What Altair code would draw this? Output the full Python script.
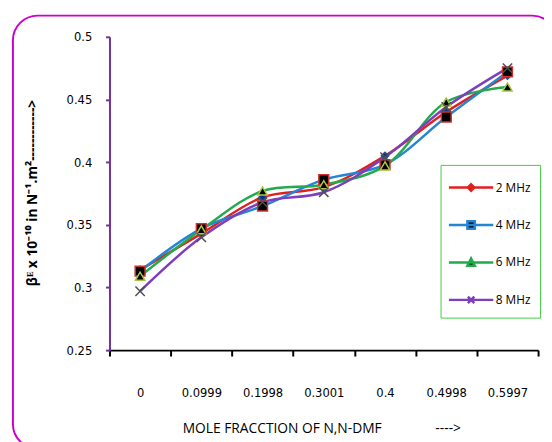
import altair as alt
import pandas as pd

categories = ["0", "0.0999", "0.1998", "0.3001", "0.4", "0.4998", "0.5997"]
series_names = ["2 MHz", "4 MHz", "6 MHz", "8 MHz"]
v2 = [0.314, 0.343, 0.372, 0.380, 0.405, 0.440, 0.469]
v4 = [0.313, 0.347, 0.365, 0.386, 0.398, 0.436, 0.472]
v6 = [0.309, 0.346, 0.377, 0.382, 0.397, 0.448, 0.460]
v8 = [0.297, 0.340, 0.368, 0.376, 0.404, 0.444, 0.475]
y_ticks = [0.25, 0.3, 0.35, 0.4, 0.45, 0.5]

line_colors = ["#e0201c", "#2585d5", "#22aa4c", "#7d3fbb"]
marker_fill = ["#1a2a6a", "#000000", "#000000", "transparent"]
marker_stroke = ["#2050a0", "#d03030", "#a8c840", "#505050"]
marker_size = [55, 100, 90, 90]
marker_shape = ["diamond", "square", "triangle-up", "M-1,-1L1,1M-1,1L1,-1"]

# legend symbols: short line with the marker in its middle
legend_shapes = [
    "M-1.8,0H1.8M0,-0.26L0.26,0L0,0.26L-0.26,0Z",
    "M-1.8,0H1.8M-0.3,-0.3H0.3V0.3H-0.3Z",
    "M-1.8,0H1.8M0,-0.32L0.3,0.26H-0.3Z",
    "M-1.8,0H1.8M-0.26,-0.26L0.26,0.26M-0.26,0.26L0.26,-0.26",
]

rows = []
for name, vals in zip(series_names, [v2, v4, v6, v8]):
    for c, v in zip(categories, vals):
        rows.append({"x": c, "series": name, "value": v})
df = pd.DataFrame(rows)

tick_font = "DejaVu Sans Condensed, Liberation Sans"

x_enc = alt.X(
    "x:N",
    sort=categories,
    scale=alt.Scale(type="band", paddingInner=0, paddingOuter=0),
    axis=alt.Axis(
        labelAngle=0,
        tickBand="extent",
        domainColor="#000000",
        domainWidth=2,
        tickColor="#000000",
        tickWidth=2,
        tickSize=6,
        labelPadding=31,
        labelFont=tick_font,
        labelFontSize=13,
        labelColor="#000000",
        title="MOLE FRACCTION OF N,N-DMF" + "\u00a0" * 15 + "---->",
        titleFont="Open Sans",
        titleFontWeight="normal",
        titleFontSize=14,
        titleColor="#000000",
        titleX=215,
        titleY=80,
        titleAlign="center",
        titleBaseline="middle",
    ),
)
y_enc = alt.Y(
    "value:Q",
    scale=alt.Scale(domain=[0.25, 0.5], nice=False, zero=False),
    axis=alt.Axis(
        values=y_ticks,
        format=".2~f",
        grid=False,
        domainColor="#7030a0",
        domainWidth=2,
        tickColor="#7030a0",
        tickWidth=2,
        tickSize=4,
        labelPadding=14,
        labelFont=tick_font,
        labelFontSize=13,
        labelColor="#000000",
        title="βᴱ x 10⁻¹⁰ in N⁻¹.m²" + "-" * 12 + ">",
        titleFont="Open Sans",
        titleFontWeight="bold",
        titleFontSize=14,
        titleColor="#000000",
        titleAngle=270,
        titleX=-78,
        titleY=158,
        titleAlign="center",
        titleBaseline="middle",
    ),
)

color_scale = alt.Scale(domain=series_names, range=line_colors)

legend_def = alt.Legend(
    title=None,
    orient="none",
    legendX=336,
    legendY=130,
    strokeColor="#44cc44",
    fillColor="#ffffff",
    padding=9,
    symbolSize=625,
    symbolStrokeWidth=2.5,
    symbolFillColor="#000000",
    symbolOffset=8,
    labelOffset=11,
    rowPadding=15,
    labelFont="Open Sans",
    labelFontSize=12,
    labelColor="#000000",
)

frame = alt.Chart(alt.Data(values=[{"a": 1}])).mark_rect(
    fill="transparent", stroke="#cc00cc", strokeWidth=2, cornerRadius=25, clip=False
).encode(
    x=alt.value(-98), x2=alt.value(454), y=alt.value(-21.5), y2=alt.value(418)
)

lines = alt.Chart(df).mark_line(interpolate="catmull-rom", strokeWidth=2.5).encode(
    x=x_enc,
    y=y_enc,
    color=alt.Color("series:N", scale=color_scale, legend=legend_def),
)

point_layers = []
for name, shp, fl, st, sz in zip(series_names, marker_shape, marker_fill, marker_stroke, marker_size):
    point_layers.append(
        alt.Chart(df).transform_filter(alt.datum.series == name).mark_point(
            shape=shp, fill=fl, stroke=st, size=sz, opacity=1, filled=True,
            strokeWidth=1.5, fillOpacity=1, strokeOpacity=1,
        ).encode(x=x_enc, y=y_enc)
    )

# legend-only layer (no drawn marks): gives line + marker symbols
legend_layer = alt.Chart(df).transform_filter("false").mark_point(
    filled=False, fill="#000000", opacity=1, strokeWidth=2.5
).encode(
    x=x_enc,
    y=y_enc,
    color=alt.Color("series:N", scale=color_scale, legend=legend_def),
    shape=alt.Shape("series:N", scale=alt.Scale(domain=series_names, range=legend_shapes), legend=legend_def),
)

chart = alt.layer(frame, lines, *point_layers, legend_layer).properties(
    width=435,
    height=318,
    autosize="none",
    padding={"left": 103, "top": 26, "right": 6, "bottom": 90},
).configure_view(strokeWidth=0)

chart.save("out.html", embed_options={"renderer": "svg", "actions": False})
